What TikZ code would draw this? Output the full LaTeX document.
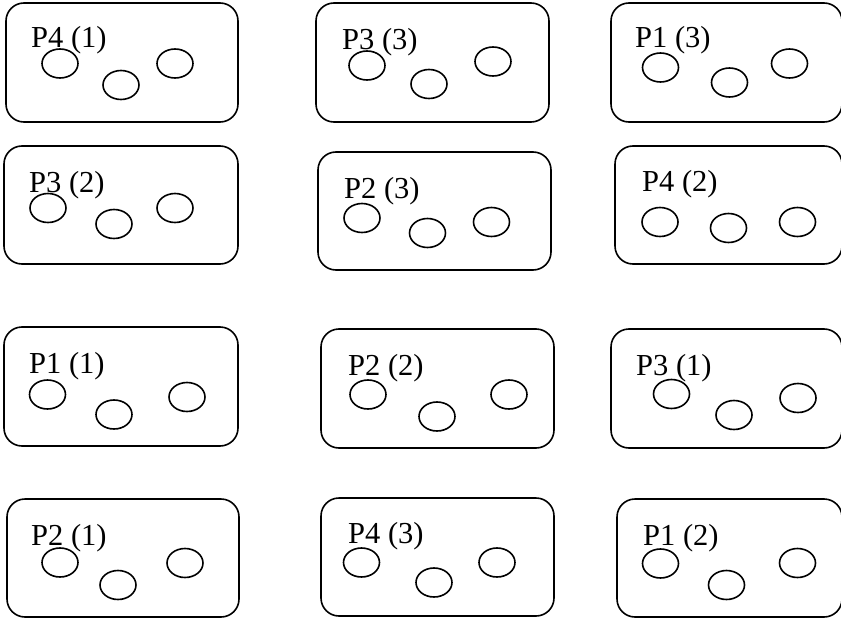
\documentclass[tikz,border=0pt]{standalone}
\usepackage{fontspec}
\setmainfont{Liberation Serif}
\usetikzlibrary{shapes.geometric}
\tikzset{
  pbox/.style={draw=black, line width=1.6pt, rounded corners=18pt, rectangle, inner sep=0pt},
  ell/.style={draw=black, line width=1.6pt, ellipse, inner sep=0pt, minimum width=36pt, minimum height=29pt},
  lbl/.style={anchor=base west, inner sep=0pt, font=\fontsize{30.5}{31}\selectfont}
}
\newcommand\mybox[5]{%
  \node[pbox, minimum width={(#4-#2)*1pt}, minimum height={(#5-#3)*1pt}] (#1) at ({(#2+#4)/2},{(#3+#5)/2}) {};}
\begin{document}
\begin{tikzpicture}[x=1pt,y=-1pt]
\useasboundingbox (0,0) rectangle (841,618);
% row 1
\mybox{b1}{6}{3}{238}{122}
\node[lbl] (l1) at (31,48) {P4 (1)};
\node[ell] (e1a) at (60,63.5) {};
\node[ell] (e1b) at (121,85) {};
\node[ell] (e1c) at (175,63.5) {};

\mybox{b3}{316}{3}{549}{122}
\node[lbl] (l3) at (342,50) {P3 (3)};
\node[ell] (e3a) at (367,65.5) {};
\node[ell] (e3b) at (429,84) {};
\node[ell] (e3c) at (493,61.5) {};

\mybox{b5}{611}{3}{842}{122}
\node[lbl] (l5) at (635,48) {P1 (3)};
\node[ell] (e5a) at (660.5,67.5) {};
\node[ell] (e5b) at (729.5,82.5) {};
\node[ell] (e5c) at (789.5,63.5) {};

% row 2
\mybox{b2}{4}{146}{238}{264}
\node[lbl] (l2) at (29,192) {P3 (2)};
\node[ell] (e2a) at (48,208) {};
\node[ell] (e2b) at (114,224) {};
\node[ell] (e2c) at (175,208) {};

\mybox{b4}{318}{152}{551}{270}
\node[lbl] (l4) at (344,198) {P2 (3)};
\node[ell] (e4a) at (362,218) {};
\node[ell] (e4b) at (427.5,233) {};
\node[ell] (e4c) at (491.5,222) {};

\mybox{b6}{615}{146}{842}{264}
\node[lbl] (l6) at (642,191) {P4 (2)};
\node[ell] (e6a) at (660,222) {};
\node[ell] (e6b) at (728.5,228) {};
\node[ell] (e6c) at (797.5,222) {};

% row 3
\mybox{b7}{4}{327}{238}{446}
\node[lbl] (l7) at (29,373) {P1 (1)};
\node[ell] (e7a) at (47.5,394.5) {};
\node[ell] (e7b) at (114,414.5) {};
\node[ell] (e7c) at (187,397) {};

\mybox{b9}{321}{329}{554}{448}
\node[lbl] (l9) at (348,375) {P2 (2)};
\node[ell] (e9a) at (368,394.5) {};
\node[ell] (e9b) at (437,416.5) {};
\node[ell] (e9c) at (509,394.5) {};

\mybox{b11}{611}{329}{842}{448}
\node[lbl] (l11) at (636,375) {P3 (1)};
\node[ell] (e11a) at (671.5,394) {};
\node[ell] (e11b) at (734,415) {};
\node[ell] (e11c) at (798,398) {};

% row 4
\mybox{b8}{7}{499}{239}{617}
\node[lbl] (l8) at (31,545) {P2 (1)};
\node[ell] (e8a) at (60,562.5) {};
\node[ell] (e8b) at (118,585) {};
\node[ell] (e8c) at (185,563) {};

\mybox{b10}{321}{498}{554}{616}
\node[lbl] (l10) at (348,543) {P4 (3)};
\node[ell] (e10a) at (361.5,562.5) {};
\node[ell] (e10b) at (434,582.5) {};
\node[ell] (e10c) at (497,562.5) {};

\mybox{b12}{617}{499}{842}{617}
\node[lbl] (l12) at (643,545) {P1 (2)};
\node[ell] (e12a) at (660.5,563.5) {};
\node[ell] (e12b) at (726.5,585) {};
\node[ell] (e12c) at (797.5,563) {};
\end{tikzpicture}
\end{document}
